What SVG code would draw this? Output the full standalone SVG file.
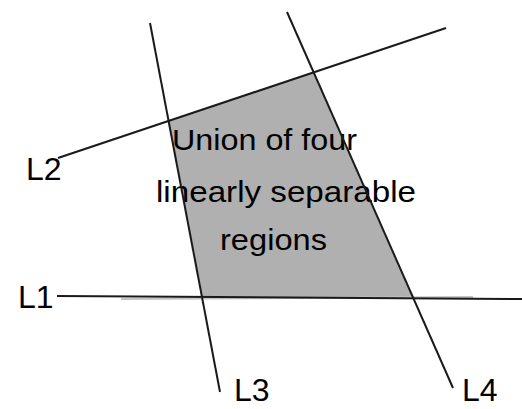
<svg xmlns="http://www.w3.org/2000/svg" width="522" height="409" viewBox="0 0 522 409">
<style>
.ln{stroke:#1a1a1a;stroke-width:2;fill:none}
.t{font-family:"Liberation Sans",Arial,sans-serif;fill:#000}
.lb{font-size:32px}
.rg{font-size:30px}
</style>
<rect width="522" height="409" fill="#fff"/>
<g id="region">
<polygon points="168,121 313,73 413,298 202,297" fill="#b0b0b0"/>
<line x1="121" y1="299" x2="473" y2="297" stroke="#c4c4c4" stroke-width="2"/>
<text class="t rg" x="172" y="150" textLength="185" lengthAdjust="spacingAndGlyphs">Union of four</text>
<text class="t rg" x="156" y="202" textLength="260" lengthAdjust="spacingAndGlyphs">linearly separable</text>
<text class="t rg" x="220" y="250" textLength="107" lengthAdjust="spacingAndGlyphs">regions</text>
</g>
<g id="connectors">
<line class="ln" x1="57" y1="296" x2="522" y2="299"/>
<line class="ln" x1="58" y1="158" x2="446" y2="28"/>
<line class="ln" x1="150" y1="23" x2="220" y2="392"/>
<line class="ln" x1="287" y1="12" x2="453" y2="388"/>
</g>
<g id="L1"><text class="t lb" x="18" y="308">L1</text></g>
<g id="L2"><text class="t lb" x="26" y="180">L2</text></g>
<g id="L3"><text class="t lb" x="234" y="401">L3</text></g>
<g id="L4"><text class="t lb" x="462" y="401">L4</text></g>
</svg>
